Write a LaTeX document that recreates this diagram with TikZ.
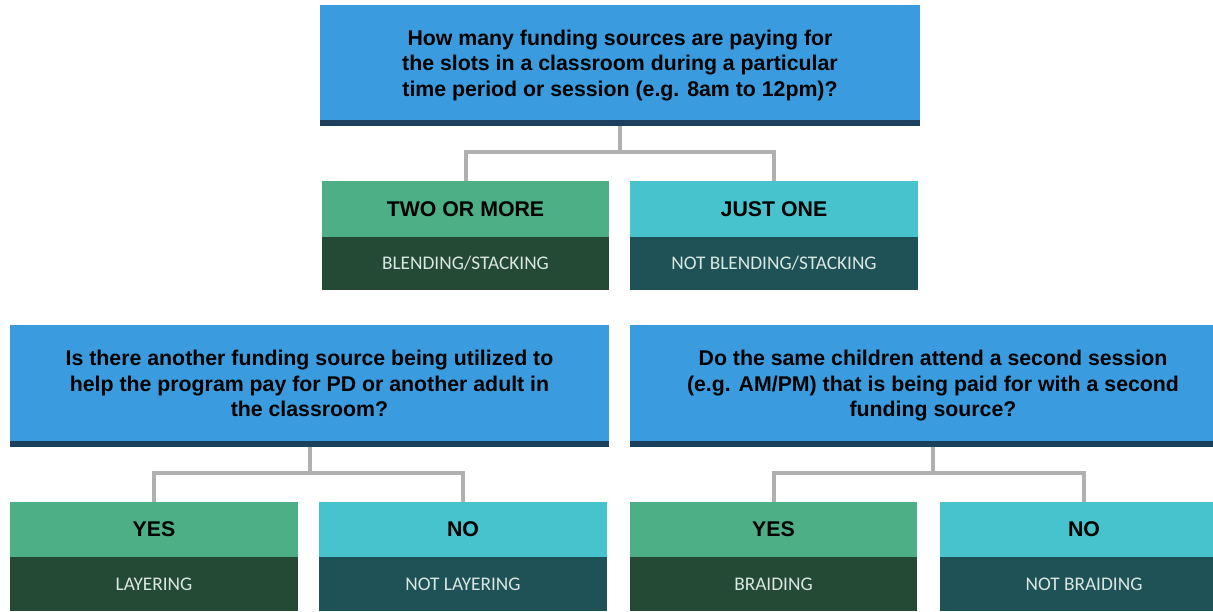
\documentclass[tikz,border=0pt]{standalone}
\usepackage{fontspec}
\setmainfont{Liberation Sans}
\newfontfamily\subfont{Carlito}
\usepackage{tikz}
\usetikzlibrary{positioning}

\definecolor{qblue}{HTML}{3A9CDE}
\definecolor{qnavy}{HTML}{1C3F5E}
\definecolor{yesgreen}{HTML}{4DAF85}
\definecolor{yesdark}{HTML}{244A36}
\definecolor{nocyan}{HTML}{46C3CC}
\definecolor{nodark}{HTML}{1F5257}
\definecolor{subtext}{HTML}{D9E7E2}
\definecolor{linkgrey}{HTML}{B0B0B0}

\begin{document}
\begin{tikzpicture}[x=1pt,y=-1pt,
    qbox/.style={fill=qblue, anchor=north west, inner sep=0pt, outer sep=0pt,
      minimum height=121pt, align=center, font=\fontsize{21.3}{25.5}\selectfont\bfseries},
    ansbox/.style={anchor=north west, inner sep=0pt, outer sep=0pt, minimum width=288pt,
      minimum height=55pt, font=\fontsize{21.3}{24}\selectfont\bfseries},
    resbox/.style={anchor=north, inner sep=0pt, outer sep=0pt, minimum width=288pt,
      minimum height=54pt, text=subtext, font=\fontsize{19.3}{22}\selectfont\subfont},
    link/.style={draw=linkgrey, line width=4pt}]
\useasboundingbox (0,0) rectangle (1213,611);

\node[qbox, minimum width=600pt] (q1) at (320,5)
  {How many funding sources are paying for\\the slots in a classroom during a particular\\time period or session (e.g. 8am to 12pm)?};
\fill[qnavy] (q1.south west) rectangle ([yshift=6pt]q1.south east);

\node[ansbox, fill=yesgreen, minimum width=287pt, minimum height=56pt] (two) at (322,181) {TWO OR MORE};
\node[resbox, fill=yesdark, minimum width=287pt, minimum height=53pt] (blend) at (two.south) {BLENDING/STACKING};
\node[ansbox, fill=nocyan, minimum height=56pt] (one) at (630,181) {JUST ONE};
\node[resbox, fill=nodark, minimum height=53pt] (notblend) at (one.south) {NOT BLENDING/STACKING};

\draw[link] (q1.south) -- ++(0,26) coordinate (j1) -| (two.north);
\draw[link] (j1) -| (one.north);

\node[qbox, minimum width=599pt, minimum height=122pt] (q2) at (10,325)
  {\raisebox{7pt}{\begin{tabular}{@{}c@{}}Is there another funding source being utilized to\\help the program pay for PD or another adult in\\the classroom?\end{tabular}}};
\fill[qnavy] (q2.south west) rectangle ([yshift=6pt]q2.south east);

\node[qbox, minimum width=606pt, minimum height=122pt] (q3) at (630,325)
  {Do the same children attend a second session\\(e.g. AM/PM) that is being paid for with a second\\funding source?};
\fill[qnavy] (q3.south west) rectangle ([yshift=6pt]q3.south east);

\node[ansbox, fill=yesgreen] (yes1) at (10,502) {YES};
\node[resbox, fill=yesdark] (layer) at (yes1.south) {LAYERING};
\node[ansbox, fill=nocyan] (no1) at (319,502) {NO};
\node[resbox, fill=nodark] (notlayer) at (no1.south) {NOT LAYERING};

\node[ansbox, fill=yesgreen, minimum width=287pt] (yes2) at (630,502) {YES};
\node[resbox, fill=yesdark, minimum width=287pt] (braid) at (yes2.south) {BRAIDING};
\node[ansbox, fill=nocyan] (no2) at (940,502) {NO};
\node[resbox, fill=nodark] (notbraid) at (no2.south) {NOT BRAIDING};

\draw[link] (q2.south) -- ++(0,26) coordinate (j2) -| (yes1.north);
\draw[link] (j2) -| (no1.north);
\draw[link] (q3.south) -- ++(0,26) coordinate (j3) -| (yes2.north);
\draw[link] (j3) -| (no2.north);
\end{tikzpicture}
\end{document}
